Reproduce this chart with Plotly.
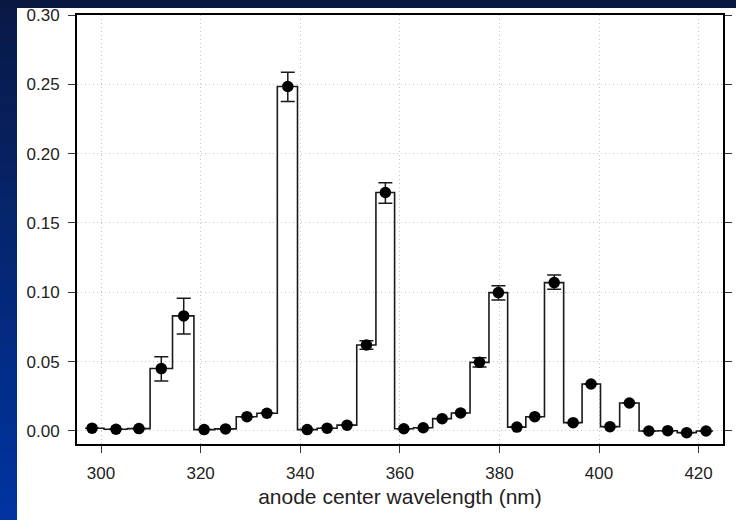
import plotly.graph_objects as go

# ---- data ----
wavelength = [298.2, 303.0, 307.6, 312.1, 316.6, 320.7, 325.0, 329.3, 333.3, 337.5,
              341.4, 345.4, 349.4, 353.3, 357.1, 360.8, 364.7, 368.5, 372.2, 376.0,
              379.8, 383.5, 387.1, 391.0, 394.8, 398.4, 402.2, 406.1, 410.0, 413.8,
              417.6, 421.5]
signal = [0.0020, 0.0012, 0.0017, 0.0450, 0.0830, 0.0010, 0.0015, 0.0103, 0.0128, 0.2484,
          0.0010, 0.0020, 0.0042, 0.0620, 0.1720, 0.0016, 0.0023, 0.0089, 0.0130, 0.0495,
          0.0998, 0.0028, 0.0103, 0.1070, 0.0060, 0.0339, 0.0031, 0.0202, 0.0000, 0.0002,
          -0.0012, 0.0000]
err_plus = [None, None, None, 0.0085, 0.0127, None, None, None, None, 0.0104,
            None, None, None, 0.0030, 0.0070, None, None, None, None, 0.0033,
            0.0050, None, None, 0.0055, None, None, None, None, None, None,
            None, None]
err_minus = [None, None, None, 0.0089, 0.0130, None, None, None, None, 0.0108,
             None, None, None, 0.0030, 0.0078, None, None, None, None, 0.0033,
             0.0053, None, None, 0.0048, None, None, None, None, None, None,
             None, None]
x_ticks = [300, 320, 340, 360, 380, 400, 420]
y_ticks = [0.00, 0.05, 0.10, 0.15, 0.20, 0.25, 0.30]
x_title = "anode center wavelength (nm)"

# ---- figure geometry ----
W, H = 736, 520
ML, MR, MT, MB = 77, 13, 15, 76
PW, PH = W - ML - MR, H - MT - MB


def px2paper_x(px):
    return (px - ML) / PW


def px2paper_y(py):
    return (H - MB - py) / PH


fig = go.Figure()

fig.add_trace(go.Scatter(
    x=wavelength, y=signal,
    mode="lines",
    line=dict(shape="hvh", color="#1a1a1a", width=1.6),
    hoverinfo="skip", showlegend=False,
))
fig.add_trace(go.Scatter(
    x=wavelength, y=signal,
    mode="markers",
    marker=dict(symbol="circle", size=11.5, color="#000000"),
    error_y=dict(type="data", symmetric=False, array=err_plus, arrayminus=err_minus,
                 color="#1a1a1a", thickness=1.5, width=7),
    showlegend=False,
))

# background bands (left gradient strip, top dark strip)
shapes = []
n = 30
top_c = (8, 26, 72)
bot_c = (0, 52, 160)
band_top = 8
step = (H - band_top) / n
for i in range(n):
    y0 = band_top + step * i
    y1 = min(H, y0 + step + 2)
    t = i / (n - 1)
    c = tuple(int(round(top_c[k] + (bot_c[k] - top_c[k]) * t)) for k in range(3))
    shapes.append(dict(type="rect", xref="paper", yref="paper",
                       x0=px2paper_x(0), x1=px2paper_x(17),
                       y0=px2paper_y(y1), y1=px2paper_y(y0),
                       fillcolor="rgb(%d,%d,%d)" % c, line=dict(width=0), layer="below"))
shapes.append(dict(type="rect", xref="paper", yref="paper",
                   x0=px2paper_x(0), x1=px2paper_x(W),
                   y0=px2paper_y(band_top), y1=px2paper_y(0),
                   fillcolor="rgb(8,24,64)", line=dict(width=0), layer="below"))

FONT = "Liberation Sans, Arial, sans-serif"
axis_common = dict(
    showline=True, linecolor="#000000", linewidth=2,
    ticks="outside", ticklen=7, tickwidth=1.2, tickcolor="#333333",
    showgrid=True, gridcolor="#c4c4c4", gridwidth=1, griddash="1px,3px",
    zeroline=False, automargin=False,
    tickfont=dict(family=FONT, size=17, color="#222222"),
)

fig.update_layout(
    width=W, height=H,
    margin=dict(l=ML, r=MR, t=MT, b=MB, pad=0, autoexpand=False),
    paper_bgcolor="#ffffff", plot_bgcolor="#ffffff",
    shapes=shapes,
    xaxis=dict(range=[295.17, 424.9], tickvals=x_ticks, ticktext=[str(v) for v in x_ticks],
               mirror=True, ticklabelstandoff=6,
               title=dict(text=x_title, standoff=7,
                          font=dict(family=FONT, size=21, color="#222222")),
               **axis_common),
    yaxis=dict(range=[-0.0094, 0.30], tickvals=y_ticks,
               ticktext=["%.2f" % v for v in y_ticks], mirror="ticks",
               ticklabelstandoff=5,
               **axis_common),
)

fig.write_html("out.html")
